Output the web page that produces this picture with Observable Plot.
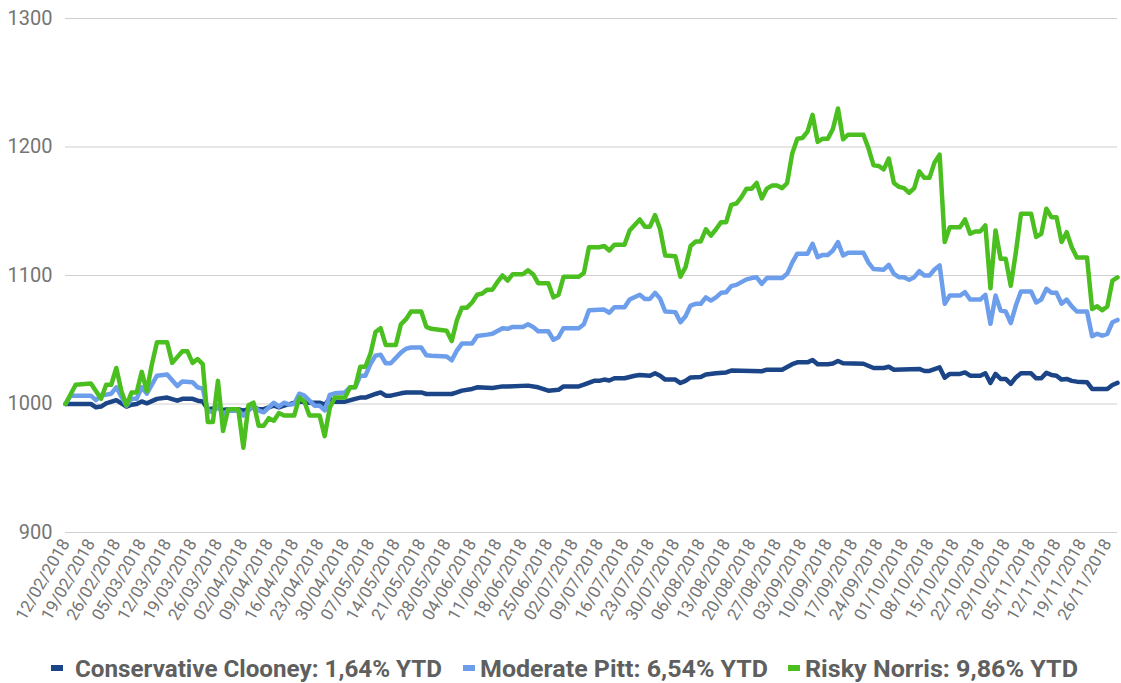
<!DOCTYPE html>
<html><head><meta charset="utf-8">
<script src="https://cdn.jsdelivr.net/npm/d3@7"></script>
<script src="https://cdn.jsdelivr.net/npm/@observablehq/plot@0.6"></script>
<style>
body{margin:0;background:#fff;font-family:Roboto,sans-serif}
#legend{display:block}
</style>
</head><body>
<div id="chart"></div>
<script>
// Trading-day index (0 = 12/02/2018, one step per business day) and portfolio value
const clooney = [[0,1000],[5,1000],[6,997.4],[7,998],[8,1000.5],[10,1003],[11,1000.5],[12,998],[13,999.5],[14,1000],[15,1002],[16,1000.5],[18,1004],[20,1005],[22,1002.6],[23,1004],[25,1004],[26,1002.6],[27,1002],[28,996],[30,997],[31,995.3],[32,996],[34,996],[35,994.8],[37,997.4],[38,996],[39,996],[41,998.7],[42,997.4],[43,998.7],[46,1002],[48,1001],[50,1001],[51,999.5],[52,1004],[53,1001.8],[55,1001.8],[57,1004],[58,1005],[59,1005],[61,1007.8],[62,1009],[63,1006.5],[64,1006.5],[66,1008.3],[67,1009],[70,1009],[71,1007.8],[76,1007.8],[77,1009],[78,1010.4],[80,1011.7],[81,1013],[84,1012.4],[86,1013.7],[87,1013.7],[91,1014.3],[93,1013],[95,1010.4],[97,1011],[98,1013.7],[101,1013.7],[102,1015],[104,1018],[105,1018],[106,1019],[107,1018.3],[108,1020],[110,1020],[112,1022],[113,1022.6],[115,1022],[116,1023.9],[117,1022],[118,1019],[120,1019],[121,1016.3],[122,1018],[123,1020.7],[125,1021],[126,1023],[128,1023.9],[130,1024.6],[131,1026],[137,1025.5],[138,1026.7],[141,1026.7],[143,1031],[144,1032.4],[146,1032.4],[147,1034.3],[148,1030.9],[150,1030.9],[151,1031.5],[152,1033.5],[153,1031.7],[157,1031.3],[159,1028],[161,1028],[162,1029],[163,1026.7],[168,1027.3],[169,1025.7],[170,1025.7],[172,1028.5],[173,1020.5],[174,1023.4],[176,1023.4],[177,1024.6],[178,1022],[180,1022],[181,1023.9],[182,1016.4],[183,1023.4],[184,1019.5],[185,1019.5],[186,1015.6],[187,1020.7],[188,1023.9],[190,1023.9],[191,1020],[192,1020],[193,1024.2],[194,1022.6],[195,1022],[196,1019],[197,1019.5],[198,1018],[199,1017.4],[201,1017],[202,1011.7],[205,1011.7],[206,1014.8],[207,1016.4]];

const pitt = [[0,1000],[1,1006.5],[5,1006.5],[6,1003],[7,1006.5],[9,1008],[10,1013],[11,1005.7],[12,998.7],[13,1004],[14,1004],[15,1013],[16,1008],[18,1022],[20,1023],[22,1014],[23,1017.6],[25,1017],[26,1013],[27,1012],[28,994.8],[29,993.5],[30,998.7],[31,992.2],[32,994.8],[34,995],[35,991],[37,998.7],[38,994.8],[39,993.5],[41,1001],[42,998],[43,1001],[44,999.5],[45,1000],[46,1008],[47,1006.5],[49,998.7],[50,998.7],[51,995],[52,1007],[53,1008.3],[55,1009],[56,1013],[57,1013],[58,1022],[59,1022],[60,1031],[61,1037.6],[62,1038.4],[63,1031.7],[64,1031.7],[66,1040],[67,1043],[68,1044],[70,1044],[71,1038],[72,1037.6],[75,1037],[76,1034],[77,1041.5],[78,1047],[80,1047],[81,1053],[83,1054],[84,1054.6],[86,1059],[87,1058.5],[88,1060],[90,1060],[91,1062],[92,1060],[93,1056.6],[95,1056.6],[96,1050],[97,1052],[98,1059],[101,1059],[102,1062],[103,1073],[106,1073.5],[107,1071],[108,1075.3],[110,1075.3],[111,1081.3],[113,1085],[114,1081.8],[115,1081.8],[116,1086.5],[117,1082],[118,1072],[120,1071.5],[121,1063.6],[122,1068.3],[123,1076.6],[124,1078],[125,1078],[126,1083],[127,1080.5],[128,1083],[129,1086.5],[130,1087],[131,1091.7],[132,1092.7],[134,1097],[135,1098],[136,1098.6],[137,1093.5],[138,1098],[141,1098],[142,1101.3],[143,1110],[144,1117],[146,1117],[147,1124.7],[148,1114.3],[149,1116],[150,1116],[151,1119.5],[152,1126],[153,1115.6],[154,1117.7],[157,1117.7],[158,1110],[159,1105],[161,1104.5],[162,1108.3],[163,1101.3],[164,1098.7],[165,1098.7],[166,1096.6],[167,1098.7],[168,1103.4],[169,1100],[170,1100],[171,1104.7],[172,1107.8],[173,1078],[174,1084.4],[176,1084.4],[177,1087],[178,1081.3],[180,1081.3],[181,1085],[182,1062.4],[183,1084.4],[184,1072.7],[185,1072],[186,1063],[187,1076.6],[188,1087.5],[190,1087.5],[191,1079],[192,1081.3],[193,1089.6],[194,1086.5],[195,1086.5],[196,1078],[197,1081.3],[198,1076],[199,1072],[201,1072],[202,1052.7],[203,1054.6],[204,1053.2],[205,1054.6],[206,1063.6],[207,1065.4]];

const norris = [[0,1000],[2,1015],[5,1016],[7,1004],[8,1015],[9,1015],[10,1028],[11,1010],[12,999],[13,1009],[14,1009],[15,1025],[16,1010],[17,1031],[18,1048],[20,1048],[21,1032],[23,1041],[24,1041],[25,1032],[26,1035],[27,1031],[28,986],[29,986],[30,1018],[31,979],[32,996],[34,996],[35,966],[36,999],[37,1001],[38,983],[39,983],[40,989],[41,987],[42,993],[43,991],[45,991],[46,1005],[47,1002],[48,991],[50,991],[51,975],[52,997],[53,1005],[55,1005],[56,1013],[57,1013],[58,1029],[59,1029],[60,1039],[61,1056],[62,1059],[63,1046],[65,1046],[66,1062],[67,1066],[68,1072],[70,1072],[71,1060],[72,1058.5],[75,1057],[76,1049],[77,1065],[78,1075],[79,1075],[80,1079],[81,1085],[82,1086],[83,1089],[84,1089],[85,1095],[86,1100],[87,1096],[88,1101],[90,1101],[91,1104],[92,1101],[93,1094],[95,1094],[96,1083],[97,1085],[98,1099],[101,1099],[102,1102],[103,1122],[105,1122],[106,1123],[107,1119.5],[108,1124],[110,1124],[111,1135],[113,1143.6],[114,1138],[115,1138],[116,1147],[117,1136],[118,1115.6],[120,1115],[121,1099],[122,1106.5],[123,1123],[124,1126.5],[125,1126.5],[126,1136],[127,1131],[128,1136],[129,1141.5],[130,1141.5],[131,1155],[132,1156],[133,1161],[134,1167.6],[135,1167.6],[136,1172],[137,1160],[138,1167.6],[139,1170],[140,1170],[141,1168],[142,1172],[143,1195],[144,1206.5],[145,1207],[146,1212],[147,1225],[148,1204],[149,1206.5],[150,1206.5],[151,1214],[152,1230],[153,1206],[154,1209.6],[157,1209.6],[158,1199],[159,1185.7],[160,1185.3],[161,1182.6],[162,1191],[163,1172],[164,1169],[165,1168],[166,1164.4],[167,1168],[168,1181],[169,1176],[170,1176],[171,1188],[172,1194],[173,1126],[174,1137.6],[176,1137.6],[177,1143.6],[178,1132.5],[179,1134.3],[180,1134.3],[181,1139],[182,1090],[183,1135],[184,1113],[185,1113],[186,1092],[187,1118],[188,1148],[190,1148],[191,1130],[192,1132.5],[193,1152],[194,1145.4],[195,1145.4],[196,1126],[197,1133.7],[198,1122],[199,1114],[201,1114],[202,1074],[203,1076],[204,1073],[205,1076],[206,1096],[207,1098.6]];

const yTicks = [900, 1000, 1100, 1200, 1300];
const tickLabels = ["12/02/2018","19/02/2018","26/02/2018","05/03/2018","12/03/2018","19/03/2018","26/03/2018","02/04/2018","09/04/2018","16/04/2018","23/04/2018","30/04/2018","07/05/2018","14/05/2018","21/05/2018","28/05/2018","04/06/2018","11/06/2018","18/06/2018","25/06/2018","02/07/2018","09/07/2018","16/07/2018","23/07/2018","30/07/2018","06/08/2018","13/08/2018","20/08/2018","27/08/2018","03/09/2018","10/09/2018","17/09/2018","24/09/2018","01/10/2018","08/10/2018","15/10/2018","22/10/2018","29/10/2018","05/11/2018","12/11/2018","19/11/2018","26/11/2018"];
const seriesNames = ["Conservative Clooney: 1,64% YTD", "Moderate Pitt: 6,54% YTD", "Risky Norris: 9,86% YTD"];
const seriesColors = ["#1c4587", "#6d9eeb", "#4bbf1f"];

const xTickPos = tickLabels.map((_, i) => i * 5);

const lineOpts = (color) => ({x: d => d[0], y: d => d[1], stroke: color, strokeWidth: 4.5, strokeLinejoin: "round", strokeLinecap: "round"});

const chart = Plot.plot({
  width: 1121, height: 640,
  marginLeft: 65, marginRight: 4, marginTop: 18, marginBottom: 108,
  style: {fontFamily: "Roboto, sans-serif", background: "#fff", overflow: "visible"},
  x: {domain: [0, 207], axis: null},
  y: {domain: [900, 1300], axis: null},
  marks: [
    Plot.ruleY(yTicks, {stroke: "#cfcfcf", strokeWidth: 1}),
    Plot.axisY({ticks: yTicks, tickFormat: d => String(d), tickSize: 0, tickPadding: 13, fontSize: 20, color: "#757575"}),
    Plot.axisX({ticks: xTickPos, tickFormat: d => tickLabels[d / 5], tickRotate: -60, tickSize: 0, tickPadding: 8, fontSize: 17, color: "#757575"}),
    Plot.line(clooney, lineOpts(seriesColors[0])),
    Plot.line(pitt, lineOpts(seriesColors[1])),
    Plot.line(norris, lineOpts(seriesColors[2]))
  ]
});
document.getElementById("chart").appendChild(chart);

// Legend below the plot
const legendPos = [{m: 51, t: 75, w: 367}, {m: 463, t: 480, w: 288}, {m: 788, t: 805, w: 273}];
const ns = "http://www.w3.org/2000/svg";
const leg = document.createElementNS(ns, "svg");
leg.setAttribute("id", "legend");
leg.setAttribute("width", 1121);
leg.setAttribute("height", 43);
seriesNames.forEach((name, i) => {
  const r = document.createElementNS(ns, "rect");
  r.setAttribute("x", legendPos[i].m); r.setAttribute("y", 25);
  r.setAttribute("width", 12); r.setAttribute("height", 6);
  r.setAttribute("fill", seriesColors[i]);
  leg.appendChild(r);
  const t = document.createElementNS(ns, "text");
  t.setAttribute("x", legendPos[i].t); t.setAttribute("y", 28);
  t.setAttribute("dy", "0.36em");
  t.setAttribute("fill", "#5f5f5f");
  t.setAttribute("font-family", "Roboto, sans-serif");
  t.setAttribute("font-weight", "700");
  t.setAttribute("font-size", "24");
  t.setAttribute("textLength", legendPos[i].w);
  t.setAttribute("lengthAdjust", "spacingAndGlyphs");
  t.textContent = name;
  leg.appendChild(t);
});
document.body.appendChild(leg);
</script>
</body></html>
